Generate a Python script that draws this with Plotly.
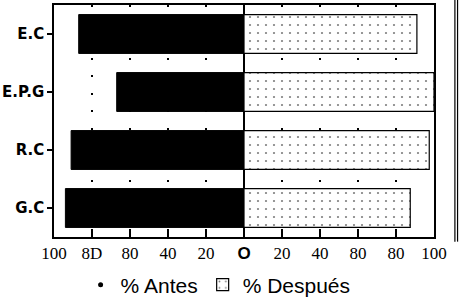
import plotly.graph_objects as go

categories = ["E.C", "E.P.G", "R.C", "G.C"]
antes = [87, 67, 91, 94]
despues = [91, 100, 97.5, 87.5]
tick_values = [-100, -80, -60, -40, -20, 0, 20, 40, 60, 80, 100]
tick_labels = ["100", "8D", "80", "40", "20",
               "<span style='font-family:Liberation Sans;font-weight:bold'>O</span>",
               "20", "40", "80", "80", "100"]

fig = go.Figure()
fig.add_trace(go.Bar(
    y=categories, x=[-v for v in antes], orientation="h",
    marker=dict(color="black", line=dict(color="black", width=1)),
    width=0.67, showlegend=False, name="% Antes"))
fig.add_trace(go.Bar(
    y=categories, x=despues, orientation="h",
    marker=dict(color="white", line=dict(color="black", width=1.2),
                pattern=dict(shape=".", fgcolor="black", bgcolor="white",
                             size=8, solidity=0.06)),
    width=0.67, name="% Después"))
# legend-only entry for "Antes"
fig.add_trace(go.Scatter(
    x=[None], y=[None], mode="markers",
    marker=dict(symbol="circle", size=5, color="black"),
    name="% Antes"))

fig.update_layout(
    width=459, height=298,
    margin=dict(l=54, r=25, t=5, b=61, autoexpand=False),
    paper_bgcolor="white", plot_bgcolor="white",
    barmode="overlay",
    font=dict(family="Liberation Serif, serif", color="black"),
    legend=dict(orientation="h", x=0.07, xanchor="left", y=-0.207,
                yanchor="middle", traceorder="reversed",
                itemwidth=30,
                font=dict(family="Liberation Sans", size=21, color="black"),
                bgcolor="rgba(0,0,0,0)"),
    xaxis=dict(range=[-100, 100], tickvals=tick_values, ticktext=tick_labels,
               automargin=False,
               ticks="inside", ticklen=8, tickcolor="black", tickwidth=1.5,
               showline=True, linecolor="black", linewidth=1.5, mirror=True,
               showgrid=True, gridcolor="black", gridwidth=1.5,
               griddash="2px,15.5px",
               zeroline=True, zerolinecolor="black", zerolinewidth=1.5,
               tickfont=dict(family="Liberation Serif, serif", size=17,
                             color="black")),
    yaxis=dict(categoryorder="array", categoryarray=categories,
               autorange="reversed", automargin=False,
               ticks="outside", ticklen=5, tickcolor="black", tickwidth=1.5,
               showline=True, linecolor="black", linewidth=1.5, mirror=True,
               showgrid=False, zeroline=False,
               tickfont=dict(family="DejaVu Sans", size=15, color="black",
                             weight="bold")),
    shapes=[
        dict(type="line", xref="paper", yref="paper", x0=1.055, x1=1.055,
             y0=-0.02, y1=1.025, line=dict(color="black", width=1.2)),
        dict(type="line", xref="paper", yref="paper", x0=1.062, x1=1.062,
             y0=-0.02, y1=1.025, line=dict(color="black", width=1.2)),
    ],
)

fig.write_html("out.html", config={"displayModeBar": False},
               post_script="document.body.style.margin='0';"
                           "document.body.style.padding='0';")
